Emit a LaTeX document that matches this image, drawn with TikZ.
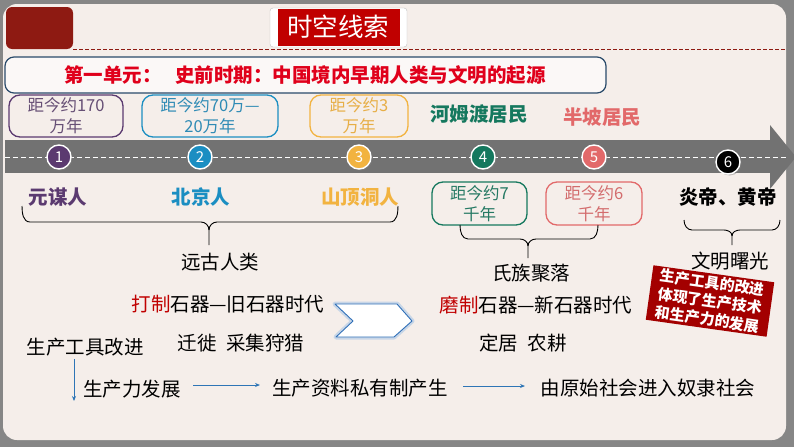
\documentclass[tikz,border=0pt]{standalone}
\usepackage{fontspec}
\setmainfont{Noto Sans CJK SC}
\usetikzlibrary{arrows.meta,shadows}
\definecolor{framegrey}{HTML}{868686}
\definecolor{bgc}{HTML}{F5EEEA}
\definecolor{darkred}{HTML}{8E1A12}
\definecolor{titlered}{HTML}{C00000}
\definecolor{unitred}{HTML}{E0001B}
\definecolor{unitblue}{HTML}{2A4A6A}
\definecolor{cpurple}{HTML}{5B3A70}
\definecolor{cblue}{HTML}{1B8EC2}
\definecolor{cgold}{HTML}{F2B340}
\definecolor{cgreen}{HTML}{15785E}
\definecolor{csalmon}{HTML}{E2696A}
\definecolor{tlgrey}{HTML}{727272}
\definecolor{arrblue}{HTML}{2E75B6}
\definecolor{chevblue}{HTML}{2F6FB8}
\tikzset{
  body/.style={font=\fontsize{19.5}{22}\selectfont, inner sep=0pt},
  namebold/.style={font=\bfseries\fontsize{19.5}{22}\selectfont, inner sep=0pt},
  datebox/.style={draw, rounded corners=11pt, line width=1.3pt, align=center,
    font=\fontsize{16.5}{21}\selectfont, inner sep=0pt, fill=bgc},
  numdot/.style={circle, draw=white, line width=1.4pt, minimum size=24pt, inner sep=0pt,
    text=white, font=\fontsize{15}{15}\selectfont,
    drop shadow={shadow xshift=1.5pt, shadow yshift=-1.5pt, opacity=0.45}},
  bracel/.style={draw=black, line width=0.9pt},
  flow/.style={-{Stealth[length=5pt,width=4pt]}, arrblue, line width=0.9pt},
}
\begin{document}
\begin{tikzpicture}[x=1pt,y=-1pt]
\useasboundingbox (0,0) rectangle (794,447);
% frame
\fill[framegrey] (0,0) rectangle (794,447);
\fill[bgc, rounded corners=14pt] (3,4) rectangle (786,440);
% header
\fill[darkred, rounded corners=6pt] (6,7) rectangle (73,49);
\node[draw=black!25, fill=white, rounded corners=3pt, minimum width=137pt, minimum height=39pt, inner sep=0pt] (titlebg) at (338.5,27.5) {};
\fill[titlered] (278,9) rectangle (400,46);
\node[text=white, font=\fontsize{25.5}{26}\selectfont, inner sep=0pt] (title) at (338,27) {时空线索};
\draw[darkred, line width=1pt, dash pattern=on 4pt off 2pt] (73,49) -- (786,49);
% unit box
\node[draw=unitblue, line width=1.2pt, fill=white!60!bgc, rounded corners=9pt, minimum width=601pt, minimum height=36pt, inner sep=0pt] (unitbox) at (305.5,75) {};
\node[text=unitred, font=\bfseries\fontsize{19.5}{22}\selectfont, inner sep=0pt] (unit) at (305,75) {第一单元：\hspace{0.7em}史前时期：中国境内早期人类与文明的起源};
% top date boxes
\node[datebox, draw=cpurple, text=cpurple!70!gray, minimum width=114pt, minimum height=42pt] (b1) at (66,116) {距今约170\\万年};
\node[datebox, draw=cblue, text=cblue!80!gray, minimum width=136pt, minimum height=42pt] (b2) at (210,116) {距今约70万—\\20万年};
\node[datebox, draw=cgold, text=cgold!90!gray, minimum width=98pt, minimum height=42pt] (b3) at (359,116) {距今约3\\万年};
\node[namebold, text=cgreen] (hemudu) at (479,114) {河姆渡居民};
\node[namebold, text=csalmon] (banpo) at (602,117) {半坡居民};
% timeline
\fill[tlgrey] (5,140) rectangle (771,173);
\fill[tlgrey] (770,125) -- (796,157) -- (770,189) -- cycle;
\draw[white, line width=1pt, dash pattern=on 5pt off 3pt] (5,157) -- (786,157);
\node[numdot, fill=cpurple] (n1) at (59,157) {1};
\node[numdot, fill=cblue] (n2) at (200,157) {2};
\node[numdot, fill=cgold] (n3) at (359,157) {3};
\node[numdot, fill=cgreen] (n4) at (483,157) {4};
\node[numdot, fill=csalmon] (n5) at (594,157) {5};
\node[numdot, fill=black] (n6) at (728,162) {6};
% names
\node[namebold, text=cpurple] (yuanmou) at (58,197) {元谋人};
\node[namebold, text=cblue] (beijing) at (201,197) {北京人};
\node[namebold, text=cgold] (shanding) at (360,197) {山顶洞人};
\node[namebold, text=black] (yanhuang) at (728,197) {炎帝、黄帝};
\node[datebox, draw=cgreen, text=cgreen!85!gray, minimum width=95pt, minimum height=43pt] (b4) at (479.5,203.5) {距今约7\\千年};
\node[datebox, draw=csalmon, text=csalmon!85!gray, minimum width=96pt, minimum height=43pt] (b5) at (594,203.5) {距今约6\\千年};
% braces
\coordinate (s1) at (209,245);
\coordinate (s2) at (528,258);
\coordinate (s3) at (732,245);
\draw[bracel] (22,206) to[out=-90,in=180] (30,222) -- (201,222) to[out=0,in=90] (209,230) -- (s1);
\draw[bracel] (209,230) to[out=90,in=180] (217,222) -- (390,222) to[out=0,in=-90] (398,206);
\draw[bracel] (460,225) to[out=-90,in=180] (468,239) -- (520,239) to[out=0,in=90] (528,246) -- (s2);
\draw[bracel] (528,246) to[out=90,in=180] (536,239) -- (590,239) to[out=0,in=-90] (598,225);
\draw[bracel] (684,220) to[out=-90,in=180] (692,230) -- (724,230) to[out=0,in=90] (732,236) -- (s3);
\draw[bracel] (732,236) to[out=90,in=180] (740,230) -- (772,230) to[out=0,in=-90] (780,220);
\node[body] (yuangu) at (220,262) {远古人类};
\node[body] (shizu) at (531,273) {氏族聚落};
\node[body] (wenming) at (730,261) {文明曙光};
% stone ages
\node[body] (jiu) at (228,304) {\textcolor{titlered}{打制}石器—旧石器时代};
\node[body] (xin) at (536,305) {\textcolor{titlered}{磨制}石器—新石器时代};
\draw[chevblue!35, line width=5pt, line join=round, opacity=0.7] (335,304) -- (397,304) -- (412,321) -- (394,337) -- (336,337) -- (353,321) -- cycle;
\draw[chevblue, line width=0.9pt, fill=white, line join=round] (335,304) -- (397,304) -- (412,321) -- (394,337) -- (336,337) -- (353,321) -- cycle;
% red note
\node[fill=titlered!85!black, text=white, rotate=-8, minimum width=122pt, minimum height=55pt, align=center,
  font=\bfseries\fontsize{15}{18.5}\selectfont, inner sep=0pt] (note) at (710,301) {生产工具的改进\\体现了生产技术\\和生产力的发展};
% bottom
\node[body] (qianxi) at (241,343) {迁徙\hspace{0.5em}采集狩猎};
\node[body] (dingju) at (523,343) {定居\hspace{0.5em}农耕};
\node[body] (gongju) at (85,347) {生产工具改进};
\node[body] (shengchanli) at (132,389) {生产力发展};
\node[body] (siyou) at (360,388) {生产资料私有制产生};
\node[body] (nuli) at (648,388) {由原始社会进入奴隶社会};
\coordinate (vtop) at (74,359);
\coordinate (vbot) at (74,401);
\coordinate (a1s) at (193,385);
\coordinate (a1e) at (260,385);
\coordinate (a2s) at (463,386);
\coordinate (a2e) at (525,386);
\draw[flow] (vtop) -- (vbot);
\draw[flow] (a1s) -- (a1e);
\draw[flow] (a2s) -- (a2e);
\end{tikzpicture}
\end{document}
